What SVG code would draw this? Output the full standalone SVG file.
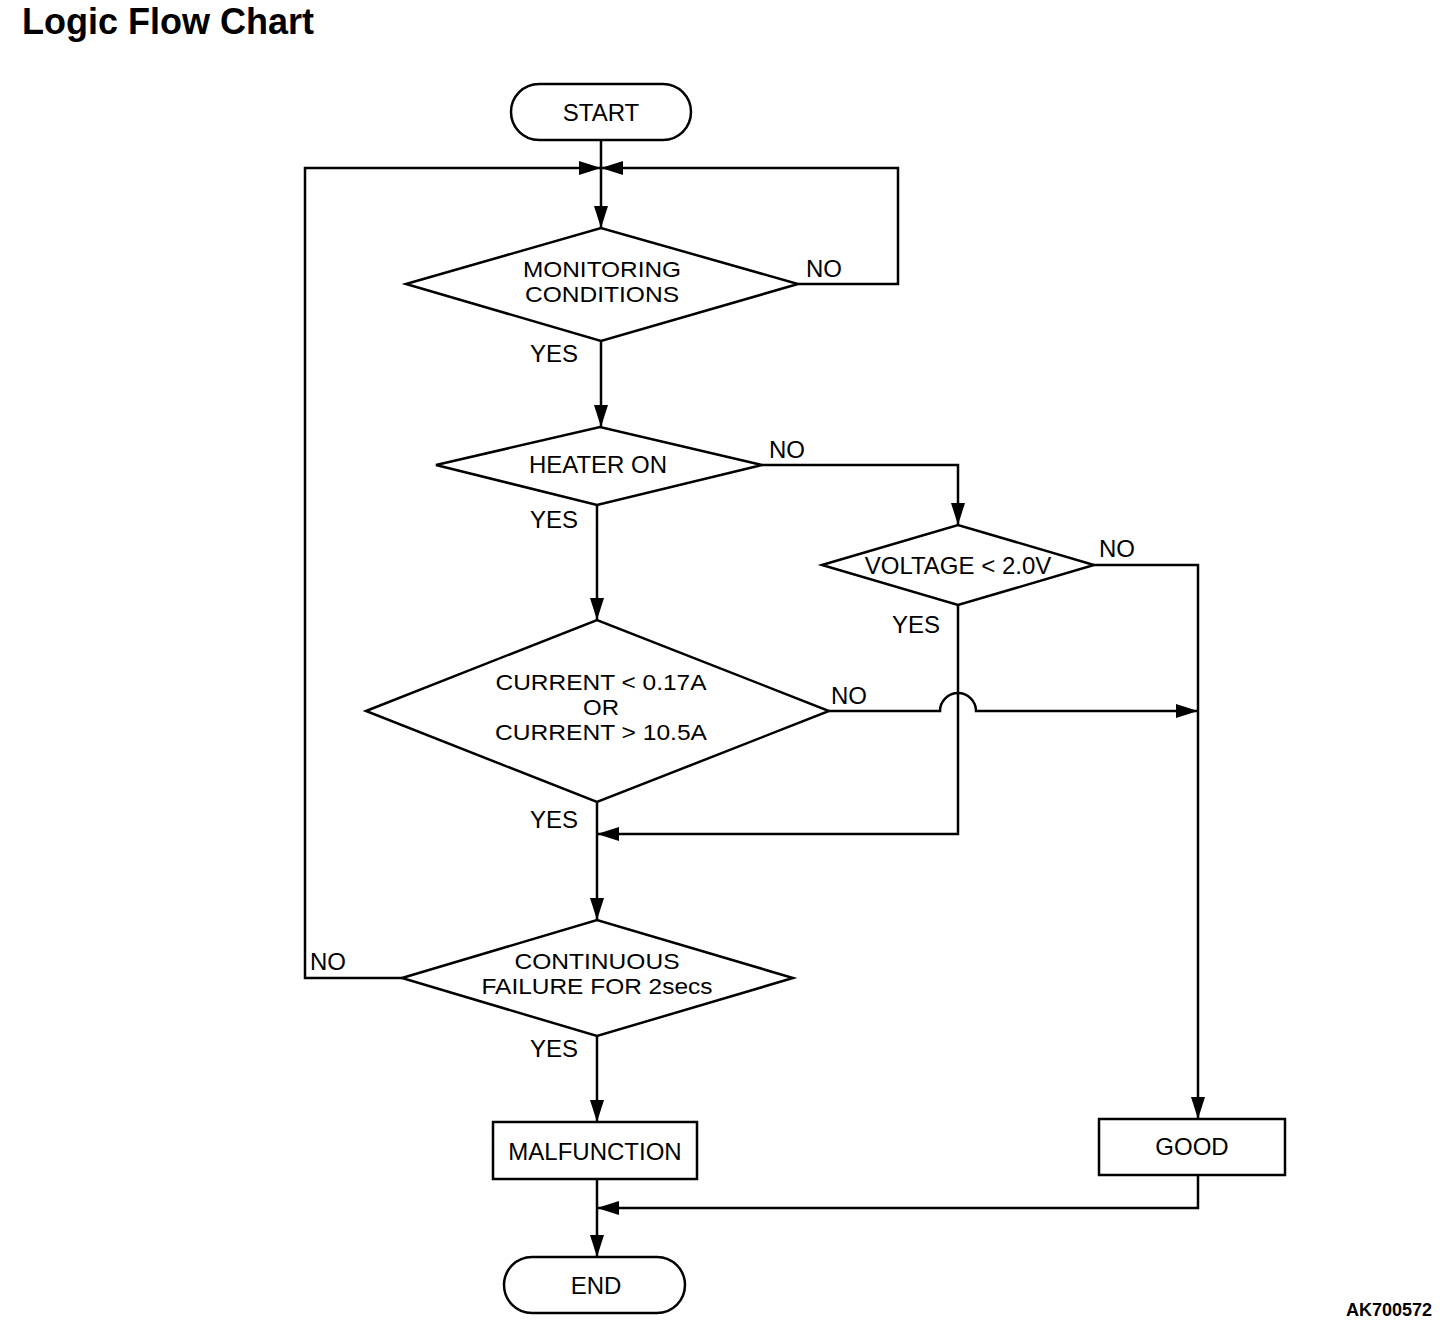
<svg xmlns="http://www.w3.org/2000/svg" width="1456" height="1330" viewBox="0 0 1456 1330">
<style>
.s{fill:#fff;stroke:#000;stroke-width:2.5}
.c{fill:none;stroke:#000;stroke-width:2.5}
text{font-family:"Liberation Sans",Arial,sans-serif;font-size:24px;fill:#000}
.m{text-anchor:middle}
.t{font-size:22px}
</style>
<defs>
<marker id="a" markerUnits="userSpaceOnUse" markerWidth="24" markerHeight="16" refX="22" refY="8" orient="auto">
<path d="M0,1 L22,8 L0,15 Z" fill="#000"/>
</marker>
</defs>
<rect width="1456" height="1330" fill="#fff"/>
<text x="22" y="34" style="font-size:36px;font-weight:bold">Logic Flow Chart</text>
<text x="1432" y="1316" style="font-size:18px;font-weight:bold;text-anchor:end">AK700572</text>

<g id="connectors">
<path class="c" d="M601,140 V228" marker-end="url(#a)"/>
<path class="c" d="M798,284 H898 V168 H601" marker-end="url(#a)"/>
<path class="c" d="M402,978 H305 V168 H601" marker-end="url(#a)"/>
<path class="c" d="M601,341 V427" marker-end="url(#a)"/>
<path class="c" d="M762,465 H958 V525" marker-end="url(#a)"/>
<path class="c" d="M597,505 V620" marker-end="url(#a)"/>
<path class="c" d="M1094,565 H1198 V1119" marker-end="url(#a)"/>
<path class="c" d="M958,605 V834 H597" marker-end="url(#a)"/>
<path class="c" d="M829,711 H940 A18,18 0 0 1 976,711 H1198" marker-end="url(#a)"/>
<path class="c" d="M597,802 V920" marker-end="url(#a)"/>
<path class="c" d="M597,1036 V1122" marker-end="url(#a)"/>
<path class="c" d="M597,1179 V1257" marker-end="url(#a)"/>
<path class="c" d="M1198,1175 V1208 H597" marker-end="url(#a)"/>
</g>

<g id="labels">
<text x="806" y="277">NO</text>
<text x="530" y="362">YES</text>
<text x="769" y="458">NO</text>
<text x="530" y="528">YES</text>
<text x="1099" y="557">NO</text>
<text x="892" y="633">YES</text>
<text x="831" y="704">NO</text>
<text x="530" y="828">YES</text>
<text x="310" y="970">NO</text>
<text x="530" y="1057">YES</text>
</g>

<g id="start">
<rect class="s" x="511" y="84" width="180" height="56" rx="28"/>
<text class="m" x="601" y="121">START</text>
</g>
<g id="monitoring">
<path class="s" d="M406,284 L601,228 L798,284 L601,341 Z"/>
<text class="m t" x="602" y="277" textLength="158" lengthAdjust="spacingAndGlyphs">MONITORING</text>
<text class="m t" x="602" y="302" textLength="154" lengthAdjust="spacingAndGlyphs">CONDITIONS</text>
</g>
<g id="heater">
<path class="s" d="M436,465 L600,427 L762,465 L597,505 Z"/>
<text class="m" x="598" y="473">HEATER ON</text>
</g>
<g id="voltage">
<path class="s" d="M822,565 L958,525 L1094,565 L958,605 Z"/>
<text class="m" x="958" y="574">VOLTAGE &lt; 2.0V</text>
</g>
<g id="current">
<path class="s" d="M366,711 L597,620 L829,711 L597,802 Z"/>
<text class="m t" x="601" y="690" textLength="211" lengthAdjust="spacingAndGlyphs">CURRENT &lt; 0.17A</text>
<text class="m t" x="601" y="715" textLength="36" lengthAdjust="spacingAndGlyphs">OR</text>
<text class="m t" x="601" y="740" textLength="212" lengthAdjust="spacingAndGlyphs">CURRENT &gt; 10.5A</text>
</g>
<g id="continuous">
<path class="s" d="M402,978 L597,920 L793,978 L597,1036 Z"/>
<text class="m t" x="597" y="969" textLength="165" lengthAdjust="spacingAndGlyphs">CONTINUOUS</text>
<text class="m t" x="597" y="994" textLength="231" lengthAdjust="spacingAndGlyphs">FAILURE FOR 2secs</text>
</g>
<g id="malfunction">
<rect class="s" x="493" y="1122" width="204" height="57"/>
<text class="m" x="595" y="1160">MALFUNCTION</text>
</g>
<g id="good">
<rect class="s" x="1099" y="1119" width="186" height="56"/>
<text class="m" x="1192" y="1155">GOOD</text>
</g>
<g id="end">
<rect class="s" x="504" y="1257" width="181" height="56" rx="28"/>
<text class="m" x="596" y="1294">END</text>
</g>
</svg>
